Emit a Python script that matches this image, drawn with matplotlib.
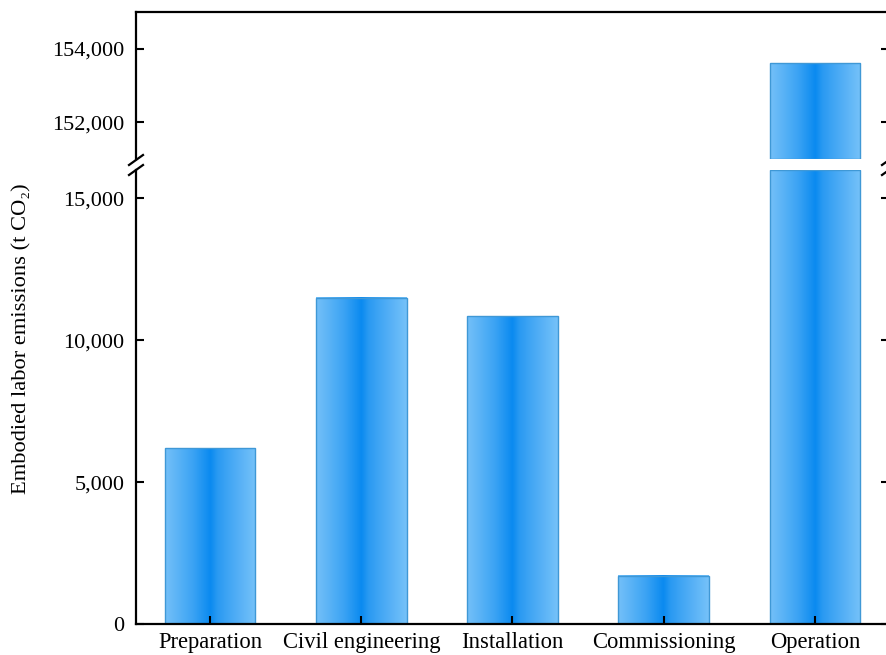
import numpy as np
import matplotlib
matplotlib.use("Agg")
import matplotlib.pyplot as plt
from matplotlib.colors import LinearSegmentedColormap
from matplotlib.ticker import FuncFormatter
from matplotlib.lines import Line2D

stages = ["Preparation", "Civil engineering", "Installation", "Commissioning", "Operation"]
emissions = [6200, 11500, 10850, 1700, 153600]

lower_ticks = [0, 5000, 10000, 15000]
upper_ticks = [152000, 154000]
lower_lim = (0, 16000)
upper_lim = (151000, 155000)

plt.rcParams["font.family"] = ["Liberation Serif", "DejaVu Serif"]
plt.rcParams["font.size"] = 16

W, H = 887, 655
fig = plt.figure(figsize=(W / 100, H / 100), dpi=100)
x_left, x_right = 136, 889
y_lo_bot, y_lo_top = 624, 170
y_hi_bot, y_hi_top = 159, 12
ax_lo = fig.add_axes([x_left / W, 1 - y_lo_bot / H, (x_right - x_left) / W, (y_lo_bot - y_lo_top) / H])
ax_hi = fig.add_axes([x_left / W, 1 - y_hi_bot / H, (x_right - x_left) / W, (y_hi_bot - y_hi_top) / H])

cmap = LinearSegmentedColormap.from_list(
    "bar_grad",
    [(0.0, "#74c0f8"), (0.3, "#3da4f4"), (0.5, "#0a8af0"),
     (0.58, "#2a9af2"), (0.75, "#4aaaf5"), (1.0, "#76c2f9")])
grad = np.linspace(0, 1, 256).reshape(1, -1)

x = np.arange(len(stages))
bar_w = 0.6
vals = np.array(emissions, dtype=float)


def fmt(v, _):
    return f"{int(v):,}"


for ax, lim, ticks in ((ax_lo, lower_lim, lower_ticks), (ax_hi, upper_lim, upper_ticks)):
    # portion of each bar that falls inside this panel's range
    bottoms = np.full_like(vals, max(lim[0], 0))
    tops = np.minimum(vals, lim[1])
    heights = np.where(tops > bottoms, tops - bottoms, 0)
    bars = ax.bar(x, heights, bottom=bottoms, width=bar_w, facecolor="none",
                  edgecolor="#3f98d6", linewidth=1.0, zorder=1.2)
    for b, h in zip(bars, heights):
        if h <= 0:
            b.set_visible(False)
            continue
        x0, y0 = b.get_x(), b.get_y()
        x1, y1 = x0 + b.get_width(), y0 + b.get_height()
        ax.imshow(grad, cmap=cmap, aspect="auto", extent=[x0, x1, y0, y1],
                  zorder=1, interpolation="bicubic")
    ax.set_xlim(-0.49, len(stages) - 0.51)
    ax.set_ylim(*lim)
    ax.set_axisbelow(False)
    ax.set_yticks(ticks)
    ax.yaxis.set_major_formatter(FuncFormatter(fmt))
    ax.tick_params(axis="y", direction="in", length=6, width=1.5,
                   right=True, labelsize=16, pad=8.5)
    ax.tick_params(axis="x", direction="in", length=6, width=1.5, labelsize=16.3, pad=6)
    for s in ax.spines.values():
        s.set_linewidth(1.6)

ax_lo.spines["top"].set_visible(False)
ax_hi.spines["bottom"].set_visible(False)
ax_hi.tick_params(axis="x", bottom=False, labelbottom=False)
ax_lo.set_xticks(x)
ax_lo.set_xticklabels(stages)
ax_lo.tick_params(axis="x", top=False)

fig.text(22 / W, 1 - 339 / H, "Embodied labor emissions (t CO₂)", rotation=90,
         ha="center", va="center", fontsize=16.2)

# break marks on the vertical spines
for xp in (x_left, x_right):
    for yc in (160, 170):
        fig.add_artist(Line2D([(xp - 7) / W, (xp + 7) / W],
                              [1 - (yc + 5) / H, 1 - (yc - 5) / H],
                              color="k", linewidth=1.6))

fig.savefig("out.png", dpi=100)
